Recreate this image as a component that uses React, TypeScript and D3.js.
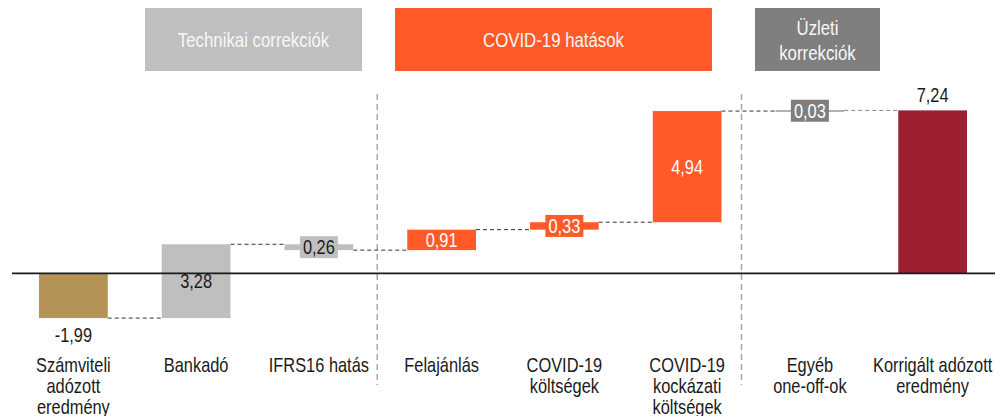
import React from 'react';
import * as d3 from 'd3';

// kategóriák és értékek (Mrd Ft)
const categories = [
  'Számviteli adózott eredmény',
  'Bankadó',
  'IFRS16 hatás',
  'Felajánlás',
  'COVID-19 költségek',
  'COVID-19 kockázati költségek',
  'Egyéb one-off-ok',
  'Korrigált adózott eredmény',
];
const categoryLines = [
  ['Számviteli', 'adózott', 'eredmény'],
  ['Bankadó'],
  ['IFRS16 hatás'],
  ['Felajánlás'],
  ['COVID-19', 'költségek'],
  ['COVID-19', 'kockázati', 'költségek'],
  ['Egyéb', 'one-off-ok'],
  ['Korrigált adózott', 'eredmény'],
];
// első elem a kiinduló eredmény, utána a változások; az utolsó oszlop az összeg
const deltas = [-1.99, 3.28, -0.26, 0.91, 0.33, 4.94, 0.03];
const total = 7.24;

const colors = ['#b59256', '#bfbfbf', '#bfbfbf', '#ff5a28', '#ff5a28', '#ff5a28', '#7f7f7f', '#9e1f31'];

const headers = [
  { lines: ['Technikai correkciók'], x0: 145, x1: 362, color: '#bfbfbf' },
  { lines: ['COVID-19 hatások'], x0: 395, x1: 712, color: '#ff5a28' },
  { lines: ['Üzleti', 'korrekciók'], x0: 755, x1: 880, color: '#7f7f7f' },
];

const W = 995;
const H = 416;
const FONT = "'Liberation Sans', Arial, sans-serif";

const fmt = (v: number) => d3.format('.2f')(v).replace('.', ',').replace('−', '-');

// "Arial Narrow" hatás: vízszintesen összenyomott szöveg
function NText({ x, y, size = 20, fill = '#1a1a1a', children }: any) {
  return (
    <g transform={`translate(${x},${y}) scale(0.82,1)`}>
      <text x={0} y={0} textAnchor="middle" fontSize={size} fill={fill} fontFamily={FONT}>
        {children}
      </text>
    </g>
  );
}

export default function App() {
  const x = d3.scaleBand<string>().domain(categories).range([12, 994]).paddingInner(0.44).paddingOuter(0.22);
  const y = d3.scaleLinear().domain([0, total]).range([273.3, 110.4]);
  const bw = x.bandwidth();

  // lépcsők
  const bars: { cat: string; start: number; end: number; value: number; i: number }[] = [];
  let cum = 0;
  deltas.forEach((d, i) => {
    const start = i === 0 ? 0 : cum;
    cum = start + d;
    bars.push({ cat: categories[i], start, end: cum, value: d, i });
  });
  bars.push({ cat: categories[categories.length - 1], start: 0, end: total, value: total, i: categories.length - 1 });

  const isLight = (c: string) => c === '#bfbfbf';

  const sep = [
    (x(categories[3]) as number) - (x.step() - bw) / 2 - 3,
    (x(categories[6]) as number) - (x.step() - bw) / 2 - 7,
  ];

  return (
    <svg width={W} height={H} style={{ position: 'absolute', left: 0, top: 0 }} fontFamily={FONT}>
      {headers.map((h, k) => (
        <g key={k}>
          <rect x={h.x0} y={8} width={h.x1 - h.x0} height={63} fill={h.color} />
          {h.lines.map((l, j) => (
            <NText key={j} x={(h.x0 + h.x1) / 2} y={h.lines.length === 1 ? 46.5 : 35 + j * 25} size={20.5} fill="#f7f7f7">
              {l}
            </NText>
          ))}
        </g>
      ))}

      {sep.map((sx, k) => (
        <line key={k} x1={sx} x2={sx} y1={94} y2={385} stroke="#a6a6a6" strokeWidth={1.5} strokeDasharray="6,4" />
      ))}

      {bars.slice(0, -1).map((b, k) => {
        const next = bars[k + 1];
        return (
          <line
            key={k}
            x1={(x(b.cat) as number) + bw}
            x2={x(next.cat) as number}
            y1={y(b.end)}
            y2={y(b.end)}
            stroke={k === bars.length - 2 ? '#888' : '#333'}
            strokeWidth={1}
            strokeDasharray="4,3"
          />
        );
      })}

      {bars.map((b) => {
        const y0 = y(Math.max(b.start, b.end));
        const y1 = y(Math.min(b.start, b.end));
        return (
          <rect key={b.cat} x={x(b.cat)} y={y0} width={bw} height={Math.max(y1 - y0, 1.2)} fill={colors[b.i]} />
        );
      })}

      <line x1={12} x2={W} y1={y(0)} y2={y(0)} stroke="#1a1a1a" strokeWidth={1.8} />

      {bars.map((b) => {
        const cx = (x(b.cat) as number) + bw / 2;
        const top = y(Math.max(b.start, b.end));
        const bot = y(Math.min(b.start, b.end));
        const mid = (top + bot) / 2;
        const c = colors[b.i];
        const txt = b.i === 0 ? fmt(b.value) : fmt(Math.abs(b.value));
        if (b.i === 0) {
          return (
            <NText key={b.cat} x={cx} y={bot + 24}>
              {txt}
            </NText>
          );
        }
        if (b.i === bars.length - 1) {
          return (
            <NText key={b.cat} x={cx} y={top - 8}>
              {txt}
            </NText>
          );
        }
        const textFill = isLight(c) ? '#1a1a1a' : '#ffffff';
        if (bot - top < 12) {
          return (
            <g key={b.cat}>
              <rect x={cx - 19} y={mid - 11} width={38} height={22} fill={c} />
              <NText x={cx} y={mid + 7} fill={textFill}>
                {txt}
              </NText>
            </g>
          );
        }
        return (
          <NText key={b.cat} x={cx} y={mid + 7} fill={textFill}>
            {txt}
          </NText>
        );
      })}

      {categories.map((c, i) =>
        categoryLines[i].map((l, j) => (
          <NText key={c + j} x={(x(c) as number) + bw / 2} y={372 + j * 21}>
            {l}
          </NText>
        ))
      )}
    </svg>
  );
}
